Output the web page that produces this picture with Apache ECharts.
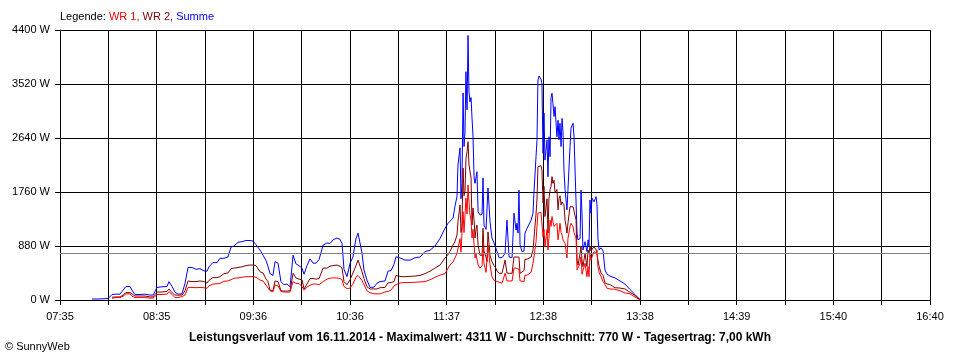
<!DOCTYPE html>
<html>
<head>
<meta charset="utf-8">
<script src="https://cdn.jsdelivr.net/npm/echarts@6/dist/echarts.min.js"></script>
<style>html,body{margin:0;padding:0;background:#fff}#c{width:960px;height:360px}</style>
</head>
<body>
<div id="c"></div>
<script>
// minutes since 07:35
const minutesSince0735 = [
20.0,23.2,26.9,30.1,32.6,35.1,37.6,39.5,41.3,43.9,45.1,47.0,50.1,53.2,56.4,58.3,60.8,63.9,67.0,68.3,
70.2,72.0,73.9,76.4,78.3,80.2,82.7,85.2,87.7,90.2,92.1,93.3,95.8,98.4,100.2,102.7,105.2,107.1,109.0,111.5,
114.0,116.5,119.0,120.9,122.8,125.3,127.2,129.1,130.3,131.6,133.4,134.7,136.6,138.4,140.3,142.2,144.1,146.0,147.8,149.7,
151.6,152.9,154.7,156.6,158.5,160.4,162.3,164.8,167.3,169.1,171.0,173.5,175.4,176.7,177.9,179.8,181.7,183.5,185.4,186.7,
187.9,189.2,190.4,192.3,194.2,196.7,198.6,200.5,201.7,203.6,205.5,207.4,209.2,210.5,211.7,213.6,216.1,219.3,222.4,225.5,
228.7,231.8,234.9,238.1,241.2,243.1,244.3,246.2,247.4,248.7,249.3,250.6,251.2,251.8,252.5,253.1,253.7,254.3,255.0,255.6,
256.2,256.8,257.5,258.1,258.7,259.4,260.0,260.6,261.2,261.9,263.1,264.4,265.0,265.6,266.9,267.5,268.1,269.4,270.6,271.9,
273.1,273.8,275.0,276.9,278.8,280.0,281.3,283.2,284.4,285.7,286.3,286.9,287.5,288.2,289.4,290.7,291.3,292.6,293.8,295.1,
296.3,296.9,298.2,298.8,299.4,300.1,301.3,301.9,302.6,303.2,303.8,305.1,305.7,306.3,307.0,307.6,308.2,308.8,309.5,310.1,
311.3,312.0,312.6,313.2,313.9,314.5,315.1,315.7,316.4,317.0,317.6,318.2,319.5,320.1,321.4,322.0,323.3,323.9,324.5,325.8,
326.4,327.0,327.6,328.9,330.1,330.8,331.4,332.0,332.6,333.3,334.5,335.8,336.4,337.0,337.7,338.9,340.2,341.4,342.7,344.5,
347.7,350.8,353.9,357.1,360.2,362.1,363.3
];
const summe = [
16,16,20,25,90,95,95,160,220,220,160,90,90,95,80,80,205,215,220,300,
220,130,95,100,270,530,530,500,510,475,470,540,610,610,680,680,700,860,880,940,
950,970,970,960,900,815,730,640,550,430,400,625,600,300,250,260,215,730,590,560,
520,420,560,670,600,600,660,895,930,920,980,1010,990,920,500,380,600,700,1000,1090,
1060,765,490,325,205,210,275,300,325,310,470,480,580,705,720,680,650,650,690,700,
790,810,880,1005,1170,1250,1280,1335,1520,1690,2200,2480,1650,1900,3375,2500,2740,3720,3100,4311,
3400,3230,3300,2965,2690,1990,1900,1875,2090,1440,1385,1400,1990,1220,1150,1170,1825,1270,1010,930,
900,790,690,690,760,1300,700,690,1415,1140,1250,1090,1790,900,790,800,1090,1170,1140,1300,
1415,1740,2335,2600,3585,3650,3600,3530,2390,3045,2280,2610,2010,2660,2335,3300,3370,3200,2990,3150,
2660,2930,2610,2880,2500,2960,2740,2120,1800,1630,1470,1790,2500,2800,2880,2660,1580,1090,980,1000,
1790,1400,815,950,790,980,880,1630,1415,1660,1600,1685,1550,1000,815,850,800,490,420,390,
360,310,260,170,90,40,10
];
const wr2 = [
null,null,null,null,45,50,50,80,120,120,90,65,65,65,50,50,130,130,140,180,
120,80,80,80,150,310,300,300,310,300,275,320,365,365,380,430,440,510,520,530,
540,560,570,570,560,460,440,340,300,160,145,310,300,150,145,145,150,435,360,340,
330,180,260,350,350,340,350,520,520,550,560,570,550,520,300,250,330,440,560,650,
620,460,350,215,180,180,180,200,210,205,280,285,300,400,405,380,380,385,390,400,
430,470,520,570,685,740,790,895,950,1060,1275,1550,1100,1200,2150,1700,1765,2300,2420,2580,
2200,2100,1990,1220,1500,1300,1010,1150,1220,895,730,730,1170,800,700,625,1110,730,625,560,
520,470,435,435,650,440,435,435,700,700,680,720,700,435,435,480,665,665,680,700,
815,1000,1400,1630,2170,2170,2190,2120,1580,1850,1360,1650,1090,1650,1800,1850,2010,1900,1950,1750,
1800,1470,1650,1700,1550,1600,1630,1550,1300,1200,1090,1250,1520,1550,1520,1450,1300,650,570,760,
870,650,545,760,545,815,760,870,800,790,870,820,845,650,550,440,400,280,260,250,
200,195,180,125,75,30,10
];
const wr1 = [
null,null,null,null,28,40,40,60,100,100,60,40,40,40,30,30,90,90,95,135,
90,40,40,55,80,205,205,200,205,200,190,230,260,265,270,305,310,330,355,360,
370,380,380,380,370,325,310,240,215,150,135,245,230,140,130,130,130,300,270,270,
220,160,210,240,260,260,250,300,340,355,360,360,350,330,220,185,195,260,370,400,
390,320,250,150,120,100,100,100,115,130,140,160,230,250,270,280,285,285,290,295,
300,330,370,405,430,520,570,620,685,760,790,1000,780,790,1440,1100,1110,1660,1400,1875,
1600,1400,1300,1010,1150,900,685,750,720,570,520,560,845,600,450,440,895,570,380,320,
300,300,275,275,435,310,310,310,520,520,510,520,500,310,290,300,405,405,420,450,
600,700,950,1195,1415,1430,1430,1400,1030,1150,870,1150,815,1000,1300,1200,1360,1280,1200,1200,
1250,980,1100,1250,1100,1060,980,950,920,800,685,1000,1195,1250,1195,1100,1000,490,490,600,
705,420,405,600,380,545,380,760,650,650,790,760,815,545,450,380,300,250,190,180,
175,150,115,100,50,20,5
];
const xTickLabels = ['07:35','08:35','09:36','10:36','11:37','12:38','13:38','14:39','15:40','16:40'];
const yTicks = [0, 880, 1760, 2640, 3520, 4400];
const average = 770;
const legendText = ['Legende: ', 'WR 1, ', 'WR 2, ', 'Summe'];
const footerText = 'Leistungsverlauf vom 16.11.2014 - Maximalwert: 4311 W - Durchschnitt: 770 W - Tagesertrag: 7,00 kWh';
const copyrightText = '\u00A9 SunnyWeb';

const SPAN = 545, STEP = SPAN / 18;
const FONT = '"Liberation Sans", Arial, sans-serif';
function pairs(arr) { return minutesSince0735.map((t, i) => [t, arr[i]]); }

const chart = echarts.init(document.getElementById('c'), null, {renderer: 'canvas'});
chart.setOption({
  animation: false,
  backgroundColor: '#fff',
  grid: {left: 60, right: 30, top: 30, bottom: 60, containLabel: false},
  xAxis: {
    type: 'value', min: 0, max: SPAN, interval: STEP,
    axisLine: {show: true, lineStyle: {color: '#000', width: 1}},
    axisTick: {show: true, length: 5, lineStyle: {color: '#000'}},
    splitLine: {show: true, lineStyle: {color: '#000', width: 1}},
    axisLabel: {
      color: '#000', fontSize: 11, fontFamily: FONT, margin: 11,
      showMinLabel: true, showMaxLabel: true,
      formatter: function (v) {
        const i = Math.round(v / STEP);
        return i % 2 === 0 ? xTickLabels[i / 2] : '';
      }
    }
  },
  yAxis: {
    type: 'value', min: yTicks[0], max: yTicks[yTicks.length - 1], interval: yTicks[1] - yTicks[0],
    axisLine: {show: true, lineStyle: {color: '#000', width: 1}},
    axisTick: {show: true, length: 5, lineStyle: {color: '#000'}},
    splitLine: {show: true, lineStyle: {color: '#000', width: 1}},
    axisLabel: {color: '#000', fontSize: 11, fontFamily: FONT, margin: 10,
      showMinLabel: true, showMaxLabel: true,
      formatter: v => v + ' W'}
  },
  series: [
    {name: 'Summe', type: 'line', data: pairs(summe), showSymbol: false, symbol: 'none',
     lineStyle: {color: '#0000ff', width: 1}, itemStyle: {color: '#0000ff'}, connectNulls: false,
     markLine: {silent: true, symbol: 'none', label: {show: false},
       lineStyle: {color: '#808080', width: 1, type: 'solid'}, data: [{yAxis: average}]}},
    {name: 'WR 2', type: 'line', data: pairs(wr2), showSymbol: false, symbol: 'none',
     lineStyle: {color: '#800000', width: 1}, itemStyle: {color: '#800000'}},
    {name: 'WR 1', type: 'line', data: pairs(wr1), showSymbol: false, symbol: 'none',
     lineStyle: {color: '#ff0000', width: 1}, itemStyle: {color: '#ff0000'}}
  ],
  graphic: [
    {type: 'text', x: 60, y: 17, style: {
      text: '{k|' + legendText[0] + '}{r|' + legendText[1] + '}{d|' + legendText[2] + '}{b|' + legendText[3] + '}',
      verticalAlign: 'middle', font: '11px ' + FONT,
      rich: {k: {fill: '#000', font: '11px ' + FONT}, r: {fill: '#ff0000', font: '11px ' + FONT},
             d: {fill: '#800000', font: '11px ' + FONT}, b: {fill: '#0000ff', font: '11px ' + FONT}}
    }},
    {type: 'text', x: 480, y: 338, style: {
      text: footerText, fill: '#000', font: 'bold 12px ' + FONT, align: 'center', verticalAlign: 'middle'
    }},
    {type: 'text', x: 5, y: 347, style: {
      text: copyrightText, fill: '#000', font: '11px ' + FONT, align: 'left', verticalAlign: 'middle'
    }}
  ]
});
</script>
</body>
</html>
